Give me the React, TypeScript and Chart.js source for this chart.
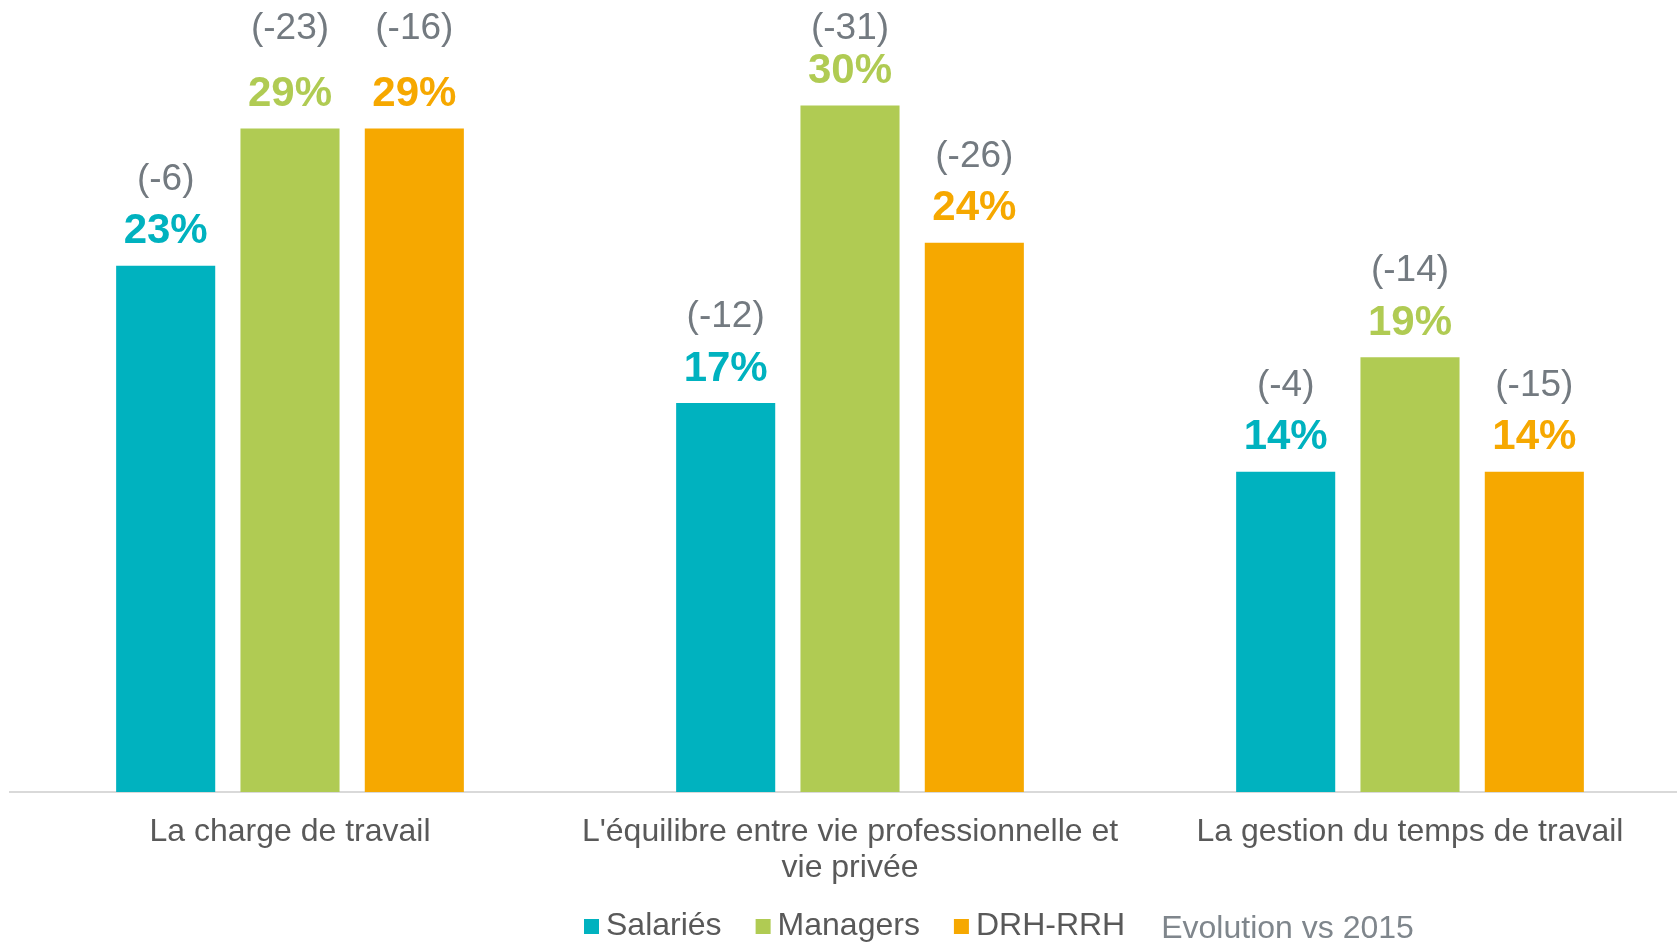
import React, { useEffect, useRef } from "react";
import { Chart, registerables } from "chart.js";

Chart.register(...registerables);

// ---- Data ----
const categories: (string | string[])[] = [
  "La charge de travail",
  ["L'équilibre entre vie professionnelle et", "vie privée"],
  "La gestion du temps de travail",
];
const seriesNames = ["Salariés", "Managers", "DRH-RRH"];
const salaries = [23, 17, 14];
const managers = [29, 30, 19];
const drhRrh = [29, 24, 14];
const salariesEvolution = [-6, -12, -4];
const managersEvolution = [-23, -31, -14];
const drhRrhEvolution = [-16, -26, -15];
const evolutionNote = "Evolution vs 2015";

const seriesColors = ["#00B2BF", "#B0CB53", "#F6A800"];
const evolutions = [salariesEvolution, managersEvolution, drhRrhEvolution];

const FONT = "'Liberation Sans', Arial, Helvetica, sans-serif";
const TEXT_GRAY = "#595959";
const DELTA_GRAY = "#737A80";

const barLabelsPlugin = {
  id: "barLabels",
  afterDatasetsDraw(chart: any) {
    const ctx = chart.ctx;
    ctx.save();
    ctx.textAlign = "center";
    ctx.textBaseline = "middle";
    chart.data.datasets.forEach((ds: any, di: number) => {
      const meta = chart.getDatasetMeta(di);
      meta.data.forEach((bar: any, i: number) => {
        const x = bar.x;
        const top = bar.y;
        ctx.font = `bold 42px ${FONT}`;
        ctx.fillStyle = ds.backgroundColor;
        ctx.fillText(`${ds.data[i]}%`, x, top - 34);
        ctx.font = `37px ${FONT}`;
        ctx.fillStyle = DELTA_GRAY;
        const dy = top - 86;
        ctx.fillText(`(${evolutions[di][i]})`, x, dy < 50 ? 29 : dy);
      });
    });
    ctx.restore();
  },
};

const legendPlugin = {
  id: "customLegend",
  afterDraw(chart: any) {
    const ctx = chart.ctx;
    ctx.save();
    const y = 926;
    let x = chart.chartArea.left + 574;
    ctx.font = `32px ${FONT}`;
    ctx.textAlign = "left";
    ctx.textBaseline = "middle";
    chart.data.datasets.forEach((ds: any) => {
      ctx.fillStyle = ds.backgroundColor;
      ctx.fillRect(x, y - 7, 15, 15);
      x += 15 + 7;
      ctx.fillStyle = TEXT_GRAY;
      ctx.fillText(ds.label, x, y);
      x += ctx.measureText(ds.label).width + 34;
    });
    x += 2;
    ctx.fillStyle = "#7F868C";
    ctx.font = `32px ${FONT}`;
    ctx.fillText(evolutionNote, x, y + 3);
    ctx.restore();
  },
};

export default function App() {
  const canvasRef = useRef<HTMLCanvasElement | null>(null);

  useEffect(() => {
    const canvas = canvasRef.current;
    if (!canvas) return;
    const seriesData = [salaries, managers, drhRrh];
    const chart = new Chart(canvas, {
      type: "bar",
      data: {
        labels: categories,
        datasets: seriesNames.map((name, i) => ({
          label: name,
          data: seriesData[i],
          backgroundColor: seriesColors[i],
          borderWidth: 0,
          categoryPercentage: 0.666,
          barPercentage: 0.797,
        })),
      },
      options: {
        responsive: false,
        animation: false,
        devicePixelRatio: 1,
        layout: { padding: { left: 10, right: 10, top: 14, bottom: 0 } },
        plugins: {
          legend: { display: false },
          tooltip: { enabled: false },
          title: { display: false },
        },
        scales: {
          x: {
            grid: { display: false, drawTicks: false },
            border: { display: true, color: "#D9D9D9", width: 2 },
            ticks: {
              color: TEXT_GRAY,
              font: { family: FONT, size: 32, lineHeight: 1.125 },
              padding: 22,
              maxRotation: 0,
              autoSkip: false,
            },
            afterFit(scale: any) {
              scale.height = 150;
            },
          },
          y: {
            display: false,
            min: 0,
            max: 34,
          },
        },
      },
      plugins: [barLabelsPlugin, legendPlugin],
    });
    return () => chart.destroy();
  }, []);

  return (
    <div
      style={{
        position: "fixed",
        left: 0,
        top: 0,
        width: 1700,
        height: 942,
        background: "#FFFFFF",
        overflow: "hidden",
      }}
    >
      <canvas ref={canvasRef} width={1700} height={942} style={{ width: 1700, height: 942 }} />
    </div>
  );
}
